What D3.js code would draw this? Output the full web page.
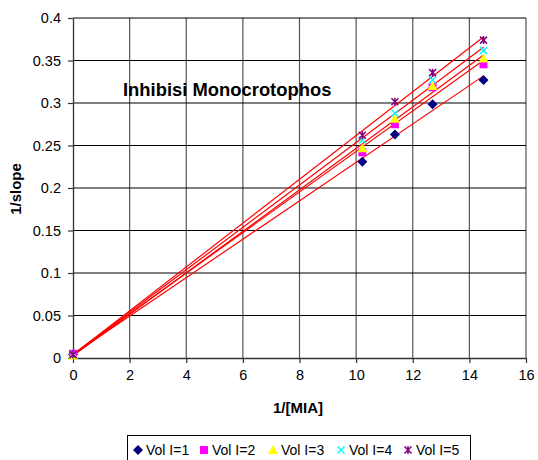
<!DOCTYPE html>
<html>
<head>
<meta charset="utf-8">
<script src="https://cdn.jsdelivr.net/npm/d3@7"></script>
<style>
body { margin: 0; background: #fff; }
text { font-family: Arial, "Liberation Sans", sans-serif; }
</style>
</head>
<body>
<script>
// data
var xValues = [0, 10.22, 11.37, 12.7, 14.5];
var vol1 = [0.004, 0.231, 0.263, 0.2985, 0.327];
var vol2 = [0.005, 0.242, 0.275, 0.3185, 0.3455];
var vol3 = [0.003, 0.2467, 0.2815, 0.32, 0.3525];
var vol4 = [0.004, 0.2565, 0.288, 0.327, 0.3616];
var vol5 = [0.004, 0.262, 0.3015, 0.3357, 0.374];
var seriesNames = ["Vol I=1", "Vol I=2", "Vol I=3", "Vol I=4", "Vol I=5"];
var xTicks = [0, 2, 4, 6, 8, 10, 12, 14, 16];
var yTicks = [0, 0.05, 0.1, 0.15, 0.2, 0.25, 0.3, 0.35, 0.4];

var width = 538, height = 460;
var colors = ["#000080", "#ff00ff", "#ffff00", "#00ffff", "#800080"];
var allSeries = [vol1, vol2, vol3, vol4, vol5];

var svg = d3.select("body").append("svg")
    .attr("width", width)
    .attr("height", height);

var x = d3.scaleLinear().domain([0, 16]).range([73, 526]);
var y = d3.scaleLinear().domain([0, 0.4]).range([358, 18]);

/* gridlines */
svg.append("g").selectAll("line").data(xTicks.slice(1)).enter().append("line")
    .attr("x1", d => x(d)).attr("x2", d => x(d))
    .attr("y1", y(0)).attr("y2", y(0.4))
    .attr("stroke", "#555").attr("stroke-width", 1.2);
svg.append("g").selectAll("line").data(yTicks.slice(1)).enter().append("line")
    .attr("x1", x(0)).attr("x2", x(16))
    .attr("y1", d => y(d)).attr("y2", d => y(d))
    .attr("stroke", "#000").attr("stroke-width", 1.2);

/* axes */
var xAxis = d3.axisBottom(x).tickValues(xTicks).tickSize(5).tickSizeOuter(0).tickPadding(7);
var yAxis = d3.axisLeft(y).tickValues(yTicks).tickSize(5).tickSizeOuter(0).tickPadding(7)
    .tickFormat(d => String(+d.toFixed(2)));

var gx = svg.append("g").attr("transform", "translate(0," + y(0) + ")").call(xAxis);
var gy = svg.append("g").attr("transform", "translate(" + x(0) + ",0)").call(yAxis);
[gx, gy].forEach(function(g) {
    g.select(".domain").attr("stroke", "#333").attr("stroke-width", 1.3);
    g.selectAll(".tick line").attr("stroke", "#333").attr("stroke-width", 1.2);
    g.selectAll("text").attr("font-size", 14.5).attr("fill", "#000")
        .attr("font-family", "Arial, 'Liberation Sans', sans-serif");
});

/* linear trend line for each series */
function fit(xs, ys) {
    var mx = d3.mean(xs), my = d3.mean(ys);
    var num = d3.sum(xs, (v, i) => (v - mx) * (ys[i] - my));
    var den = d3.sum(xs, v => (v - mx) * (v - mx));
    var b = num / den;
    return { b: b, a: my - b * mx };
}

allSeries.forEach(function(s) {
    var f = fit(xValues, s);
    var x0 = d3.min(xValues), x1 = d3.max(xValues);
    svg.append("line")
        .attr("x1", x(x0)).attr("y1", y(f.a + f.b * x0))
        .attr("x2", x(x1)).attr("y2", y(f.a + f.b * x1))
        .attr("stroke", "#ff0000").attr("stroke-width", 1.2);
});

/* marker drawing */
function marker(g, k, cx, cy) {
    var c = colors[k];
    if (k == 0) {
        g.append("path").attr("d", "M" + cx + "," + (cy - 5) + "L" + (cx + 5) + "," + cy + "L" + cx + "," + (cy + 5) + "L" + (cx - 5) + "," + cy + "Z").attr("fill", c);
    } else if (k == 1) {
        g.append("rect").attr("x", cx - 4).attr("y", cy - 4).attr("width", 8).attr("height", 8).attr("fill", c);
    } else if (k == 2) {
        g.append("path").attr("d", "M" + cx + "," + (cy - 5) + "L" + (cx + 5) + "," + (cy + 4) + "L" + (cx - 5) + "," + (cy + 4) + "Z").attr("fill", c);
    } else if (k == 3) {
        g.append("path").attr("d", "M" + (cx - 3.5) + "," + (cy - 3.5) + "L" + (cx + 3.5) + "," + (cy + 3.5) + "M" + (cx + 3.5) + "," + (cy - 3.5) + "L" + (cx - 3.5) + "," + (cy + 3.5))
            .attr("stroke", c).attr("stroke-width", 1.5);
    } else {
        g.append("path").attr("d", "M" + (cx - 3.5) + "," + (cy - 3.5) + "L" + (cx + 3.5) + "," + (cy + 3.5) + "M" + (cx + 3.5) + "," + (cy - 3.5) + "L" + (cx - 3.5) + "," + (cy + 3.5) + "M" + cx + "," + (cy - 4) + "L" + cx + "," + (cy + 4))
            .attr("stroke", c).attr("stroke-width", 1.5);
    }
}

var pts = svg.append("g");
allSeries.forEach(function(s, k) {
    s.forEach(function(v, i) {
        marker(pts, k, x(xValues[i]), y(v));
    });
});

/* title and axis labels */
svg.append("text")
    .attr("x", 123).attr("y", 96)
    .attr("font-size", 18.4).attr("font-weight", "bold")
    .text("Inhibisi Monocrotophos");

svg.append("text")
    .attr("x", 298).attr("y", 413)
    .attr("text-anchor", "middle")
    .attr("font-size", 15).attr("font-weight", "bold")
    .text("1/[MIA]");

svg.append("text")
    .attr("transform", "translate(21,189) rotate(-90)")
    .attr("text-anchor", "middle")
    .attr("font-size", 15).attr("font-weight", "bold")
    .text("1/slope");

/* legend */
var legend = svg.append("g");
legend.append("rect")
    .attr("x", 127.5).attr("y", 435.5).attr("width", 343).attr("height", 30)
    .attr("fill", "#fff").attr("stroke", "#000").attr("stroke-width", 1);
var legendX = [138, 204, 273, 341, 408];
seriesNames.forEach(function(name, k) {
    marker(legend, k, legendX[k], 450);
    legend.append("text")
        .attr("x", legendX[k] + 8).attr("y", 455)
        .attr("font-size", 14)
        .text(name);
});
</script>
</body>
</html>
